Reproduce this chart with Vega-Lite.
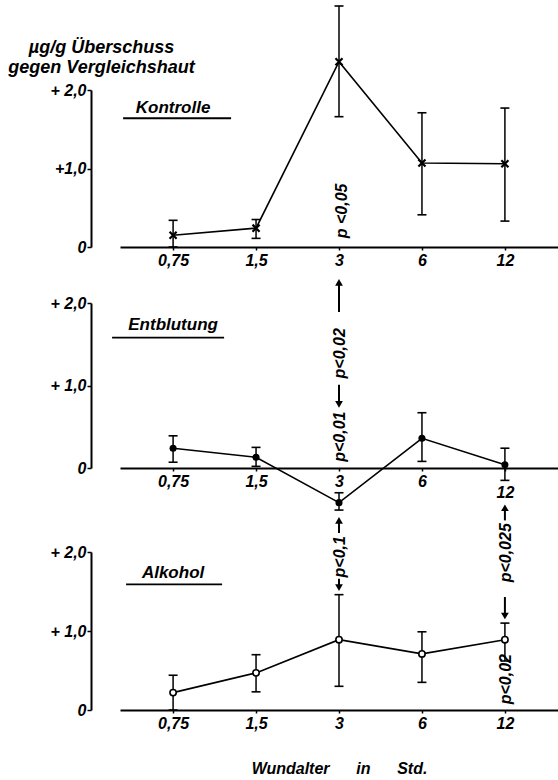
{
  "$schema": "https://vega.github.io/schema/vega-lite/v6.json",
  "padding": {"left": 7, "top": 5, "right": 0, "bottom": 0},
  "background": "white",
  "config": {
    "view": {"stroke": null},
    "font": "Liberation Sans",
    "axis": {
      "labelFont": "Liberation Sans", "labelFontStyle": "italic", "labelFontWeight": "bold", "labelFontSize": 16, "labelColor": "black",
      "titleFont": "Liberation Sans", "titleFontStyle": "italic", "titleFontWeight": "bold", "titleFontSize": 16, "titleColor": "black",
      "domain": true, "ticks": true,
      "domainColor": "black", "tickColor": "black", "grid": false
    },
    "tick": {"opacity": 1}
  },
  "datasets": {
    "series": [
      {"panel": "Kontrolle", "t": "0,75", "mean": 0.15, "lo": 0.0, "hi": 0.34},
      {"panel": "Kontrolle", "t": "1,5", "mean": 0.24, "lo": 0.11, "hi": 0.35},
      {"panel": "Kontrolle", "t": "3", "mean": 2.36, "lo": 1.66, "hi": 3.07},
      {"panel": "Kontrolle", "t": "6", "mean": 1.07, "lo": 0.41, "hi": 1.71},
      {"panel": "Kontrolle", "t": "12", "mean": 1.06, "lo": 0.33, "hi": 1.77},
      {"panel": "Entblutung", "t": "0,75", "mean": 0.24, "lo": 0.07, "hi": 0.39},
      {"panel": "Entblutung", "t": "1,5", "mean": 0.13, "lo": 0.02, "hi": 0.25},
      {"panel": "Entblutung", "t": "3", "mean": -0.42, "lo": -0.51, "hi": -0.30},
      {"panel": "Entblutung", "t": "6", "mean": 0.36, "lo": 0.08, "hi": 0.67},
      {"panel": "Entblutung", "t": "12", "mean": 0.04, "lo": -0.15, "hi": 0.24},
      {"panel": "Alkohol", "t": "0,75", "mean": 0.22, "lo": 0.0, "hi": 0.44},
      {"panel": "Alkohol", "t": "1,5", "mean": 0.47, "lo": 0.23, "hi": 0.70},
      {"panel": "Alkohol", "t": "3", "mean": 0.89, "lo": 0.30, "hi": 1.46},
      {"panel": "Alkohol", "t": "6", "mean": 0.71, "lo": 0.35, "hi": 0.99},
      {"panel": "Alkohol", "t": "12", "mean": 0.89, "lo": 0.62, "hi": 1.10}
    ],
    "labels": [
      {"panel": "Kontrolle", "t": "0,75", "label": "Kontrolle", "v": 1.77, "u": 1.64},
      {"panel": "Entblutung", "t": "0,75", "label": "Entblutung", "v": 1.73, "u": 1.58},
      {"panel": "Alkohol", "t": "0,75", "label": "Alkohol", "v": 1.73, "u": 1.59}
    ],
    "notes": [
      {"panel": "Kontrolle", "t": "3", "label": "p <0,05", "v": 0.46},
      {"panel": "Entblutung", "t": "3", "label": "p<0,02", "v": 1.39},
      {"panel": "Entblutung", "t": "3", "label": "p<0,01", "v": 0.38},
      {"panel": "Alkohol", "t": "3", "label": "p<0,1", "v": 1.94},
      {"panel": "Alkohol", "t": "12", "label": "p<0,025", "v": 1.99},
      {"panel": "Alkohol", "t": "12", "label": "p<0,02", "v": 0.39}
    ],
    "arrows": [
      {"panel": "Entblutung", "t": "3", "from": 1.89, "to": 2.25, "dir": "up"},
      {"panel": "Entblutung", "t": "3", "from": 1.01, "to": 0.77, "dir": "down"},
      {"panel": "Alkohol", "t": "3", "from": 2.24, "to": 2.40, "dir": "up"},
      {"panel": "Alkohol", "t": "3", "from": 1.66, "to": 1.55, "dir": "down"},
      {"panel": "Alkohol", "t": "12", "from": 2.40, "to": 2.56, "dir": "up"},
      {"panel": "Alkohol", "t": "12", "from": 1.43, "to": 1.19, "dir": "down"}
    ]
  },
  "bounds": "flush",
  "spacing": 56,
  "vconcat": [
    {
      "width": 438, "height": 157,
      "encoding": {
        "x": {"field": "t", "type": "ordinal", "scale": {"type": "point", "domain": ["0,75", "1,5", "3", "6", "12"], "padding": 0.64},
          "axis": {"title": null, "labelAngle": 0, "domainWidth": 2, "tickSize": 3, "tickWidth": 1.5, "labelPadding": 2}}
      },
      "layer": [
        {"data": {"name": "series"}, "transform": [{"filter": "datum.panel == 'Kontrolle'"}],
          "mark": {"type": "rule", "color": "black", "strokeWidth": 1.5},
          "encoding": {
            "y": {"field": "lo", "type": "quantitative", "scale": {"domain": [0, 2], "nice": false, "zero": false},
              "axis": {"values": [0, 1, 2], "labelExpr": "datum.value == 2 ? '+ 2,0' : datum.value == 1 ? '+1,0' : '0'", "offset": 29, "domain": true, "ticks": true, "domainColor": "black", "domainWidth": 2, "tickSize": 4, "tickWidth": 1.5, "labelPadding": 1,
                "title": ["µg/g Überschuss", "gegen Vergleichshaut"], "titleFontSize": 18, "titleAngle": 0, "titleAlign": "center", "titleBaseline": "alphabetic", "titleX": 10, "titleY": -38, "titleLineHeight": 20}},
            "y2": {"field": "hi"}
          }},
        {"data": {"name": "series"}, "transform": [{"filter": "datum.panel == 'Kontrolle'"}],
          "mark": {"type": "tick", "color": "black", "size": 9, "thickness": 1.6, "opacity": 1},
          "encoding": {"y": {"field": "hi", "type": "quantitative"}}},
        {"data": {"name": "series"}, "transform": [{"filter": "datum.panel == 'Kontrolle'"}],
          "mark": {"type": "tick", "color": "black", "size": 9, "thickness": 1.6, "opacity": 1},
          "encoding": {"y": {"field": "lo", "type": "quantitative"}}},
        {"data": {"name": "series"}, "transform": [{"filter": "datum.panel == 'Kontrolle'"}],
          "mark": {"type": "line", "color": "black", "strokeWidth": 1.6},
          "encoding": {"y": {"field": "mean", "type": "quantitative"}}},
        {"data": {"name": "series"}, "transform": [{"filter": "datum.panel == 'Kontrolle'"}],
          "mark": {"type": "point", "shape": "M-1,-1L1,1M-1,1L1,-1", "filled": false, "color": "black", "strokeWidth": 2.2, "size": 50, "opacity": 1},
          "encoding": {"y": {"field": "mean", "type": "quantitative"}}},
        {"data": {"name": "labels"}, "transform": [{"filter": "datum.panel == 'Kontrolle'"}],
          "mark": {"type": "text", "font": "Liberation Sans", "fontStyle": "italic", "fontWeight": "bold", "fontSize": 17, "color": "black", "baseline": "middle"},
          "encoding": {"text": {"field": "label"}, "y": {"field": "v", "type": "quantitative"}}},
        {"data": {"name": "labels"}, "transform": [{"filter": "datum.panel == 'Kontrolle'"}],
          "mark": {"type": "tick", "color": "black", "size": 108, "thickness": 1.8, "xOffset": 4, "opacity": 1},
          "encoding": {"y": {"field": "u", "type": "quantitative"}}},
        {"data": {"name": "notes"}, "transform": [{"filter": "datum.panel == 'Kontrolle'"}],
          "mark": {"type": "text", "angle": 270, "font": "Liberation Sans", "fontStyle": "italic", "fontWeight": "bold", "fontSize": 16, "color": "black", "baseline": "middle", "align": "center", "xOffset": 3},
          "encoding": {"text": {"field": "label"}, "y": {"field": "v", "type": "quantitative"}}}
      ]
    },
    {
      "bounds": "flush",
      "spacing": 84,
      "vconcat": [
        {
          "width": 438, "height": 165,
          "encoding": {
            "x": {"field": "t", "type": "ordinal", "scale": {"type": "point", "domain": ["0,75", "1,5", "3", "6", "12"], "padding": 0.64},
              "axis": {"title": null, "labelAngle": 0, "domainWidth": 2, "tickSize": 3, "tickWidth": 1.5, "labelPadding": 2,
                "labelExpr": "datum.label == '12' ? ['', '12'] : datum.label", "labelLineHeight": 11}}
          },
          "layer": [
            {"data": {"name": "series"}, "transform": [{"filter": "datum.panel == 'Entblutung'"}],
              "mark": {"type": "rule", "color": "black", "strokeWidth": 1.5},
              "encoding": {
                "y": {"field": "lo", "type": "quantitative", "scale": {"domain": [0, 2], "nice": false, "zero": false},
                  "axis": {"values": [0, 1, 2], "labelExpr": "datum.value == 2 ? '+ 2,0' : datum.value == 1 ? '+ 1,0' : '0'", "offset": 29, "domain": true, "ticks": true, "domainColor": "black", "domainWidth": 2, "tickSize": 4, "tickWidth": 1.5, "labelPadding": 1, "title": null}},
                "y2": {"field": "hi"}
              }},
            {"data": {"name": "series"}, "transform": [{"filter": "datum.panel == 'Entblutung'"}],
              "mark": {"type": "tick", "color": "black", "size": 9, "thickness": 1.6, "opacity": 1},
              "encoding": {"y": {"field": "hi", "type": "quantitative"}}},
            {"data": {"name": "series"}, "transform": [{"filter": "datum.panel == 'Entblutung'"}],
              "mark": {"type": "tick", "color": "black", "size": 9, "thickness": 1.6, "opacity": 1},
              "encoding": {"y": {"field": "lo", "type": "quantitative"}}},
            {"data": {"name": "series"}, "transform": [{"filter": "datum.panel == 'Entblutung'"}],
              "mark": {"type": "line", "color": "black", "strokeWidth": 1.6},
              "encoding": {"y": {"field": "mean", "type": "quantitative"}}},
            {"data": {"name": "series"}, "transform": [{"filter": "datum.panel == 'Entblutung'"}],
              "mark": {"type": "point", "shape": "circle", "filled": true, "color": "black", "size": 50, "opacity": 1},
              "encoding": {"y": {"field": "mean", "type": "quantitative"}}},
            {"data": {"name": "labels"}, "transform": [{"filter": "datum.panel == 'Entblutung'"}],
              "mark": {"type": "text", "font": "Liberation Sans", "fontStyle": "italic", "fontWeight": "bold", "fontSize": 17, "color": "black", "baseline": "middle"},
              "encoding": {"text": {"field": "label"}, "y": {"field": "v", "type": "quantitative"}}},
            {"data": {"name": "labels"}, "transform": [{"filter": "datum.panel == 'Entblutung'"}],
              "mark": {"type": "tick", "color": "black", "size": 112, "thickness": 1.8, "xOffset": -5, "opacity": 1},
              "encoding": {"y": {"field": "u", "type": "quantitative"}}},
            {"data": {"name": "notes"}, "transform": [{"filter": "datum.panel == 'Entblutung'"}],
              "mark": {"type": "text", "angle": 270, "font": "Liberation Sans", "fontStyle": "italic", "fontWeight": "bold", "fontSize": 16, "color": "black", "baseline": "middle", "align": "center", "xOffset": 1},
              "encoding": {"text": {"field": "label"}, "y": {"field": "v", "type": "quantitative"}}},
            {"data": {"name": "arrows"}, "transform": [{"filter": "datum.panel == 'Entblutung'"}],
              "mark": {"type": "rule", "color": "black", "strokeWidth": 2},
              "encoding": {"y": {"field": "from", "type": "quantitative"}, "y2": {"field": "to"}}},
            {"data": {"name": "arrows"}, "transform": [{"filter": "datum.panel == 'Entblutung'"}],
              "mark": {"type": "point", "filled": true, "color": "black", "size": 60, "opacity": 1},
              "encoding": {"y": {"field": "to", "type": "quantitative"},
                "shape": {"field": "dir", "type": "nominal", "scale": {"domain": ["up", "down"], "range": ["triangle-up", "triangle-down"]}, "legend": null}}}
          ]
        },
        {
          "width": 438, "height": 158,
          "encoding": {
            "x": {"field": "t", "type": "ordinal", "scale": {"type": "point", "domain": ["0,75", "1,5", "3", "6", "12"], "padding": 0.64},
              "axis": {"title": "Wundalter\u00a0\u00a0\u00a0\u00a0\u00a0\u00a0in\u00a0\u00a0\u00a0\u00a0\u00a0\u00a0Std.", "titlePadding": 29, "titleFontSize": 16, "labelAngle": 0, "domainWidth": 2, "tickSize": 3, "tickWidth": 1.5, "labelPadding": 2}}
          },
          "layer": [
            {"data": {"name": "series"}, "transform": [{"filter": "datum.panel == 'Alkohol'"}],
              "mark": {"type": "rule", "color": "black", "strokeWidth": 1.5},
              "encoding": {
                "y": {"field": "lo", "type": "quantitative", "scale": {"domain": [0, 2], "nice": false, "zero": false},
                  "axis": {"values": [0, 1, 2], "labelExpr": "datum.value == 2 ? '+ 2,0' : datum.value == 1 ? '+ 1,0' : '0'", "offset": 29, "domain": true, "ticks": true, "domainColor": "black", "domainWidth": 2, "tickSize": 4, "tickWidth": 1.5, "labelPadding": 1, "title": null}},
                "y2": {"field": "hi"}
              }},
            {"data": {"name": "series"}, "transform": [{"filter": "datum.panel == 'Alkohol'"}],
              "mark": {"type": "tick", "color": "black", "size": 9, "thickness": 1.6, "opacity": 1},
              "encoding": {"y": {"field": "hi", "type": "quantitative"}}},
            {"data": {"name": "series"}, "transform": [{"filter": "datum.panel == 'Alkohol'"}],
              "mark": {"type": "tick", "color": "black", "size": 9, "thickness": 1.6, "opacity": 1},
              "encoding": {"y": {"field": "lo", "type": "quantitative"}}},
            {"data": {"name": "series"}, "transform": [{"filter": "datum.panel == 'Alkohol'"}],
              "mark": {"type": "line", "color": "black", "strokeWidth": 1.6},
              "encoding": {"y": {"field": "mean", "type": "quantitative"}}},
            {"data": {"name": "series"}, "transform": [{"filter": "datum.panel == 'Alkohol'"}],
              "mark": {"type": "point", "shape": "circle", "filled": true, "fill": "white", "stroke": "black", "strokeWidth": 1.6, "size": 40, "opacity": 1},
              "encoding": {"y": {"field": "mean", "type": "quantitative"}}},
            {"data": {"name": "labels"}, "transform": [{"filter": "datum.panel == 'Alkohol'"}],
              "mark": {"type": "text", "font": "Liberation Sans", "fontStyle": "italic", "fontWeight": "bold", "fontSize": 17, "color": "black", "baseline": "middle"},
              "encoding": {"text": {"field": "label"}, "y": {"field": "v", "type": "quantitative"}}},
            {"data": {"name": "labels"}, "transform": [{"filter": "datum.panel == 'Alkohol'"}],
              "mark": {"type": "tick", "color": "black", "size": 96, "thickness": 1.8, "xOffset": 1, "opacity": 1},
              "encoding": {"y": {"field": "u", "type": "quantitative"}}},
            {"data": {"name": "notes"}, "transform": [{"filter": "datum.panel == 'Alkohol'"}],
              "mark": {"type": "text", "angle": 270, "font": "Liberation Sans", "fontStyle": "italic", "fontWeight": "bold", "fontSize": 16, "color": "black", "baseline": "middle", "align": "center", "xOffset": 1},
              "encoding": {"text": {"field": "label"}, "y": {"field": "v", "type": "quantitative"}}},
            {"data": {"name": "arrows"}, "transform": [{"filter": "datum.panel == 'Alkohol'"}],
              "mark": {"type": "rule", "color": "black", "strokeWidth": 2},
              "encoding": {"y": {"field": "from", "type": "quantitative"}, "y2": {"field": "to"}}},
            {"data": {"name": "arrows"}, "transform": [{"filter": "datum.panel == 'Alkohol'"}],
              "mark": {"type": "point", "filled": true, "color": "black", "size": 60, "opacity": 1},
              "encoding": {"y": {"field": "to", "type": "quantitative"},
                "shape": {"field": "dir", "type": "nominal", "scale": {"domain": ["up", "down"], "range": ["triangle-up", "triangle-down"]}, "legend": null}}}
          ]
        }
      ]
    }
  ]
}
